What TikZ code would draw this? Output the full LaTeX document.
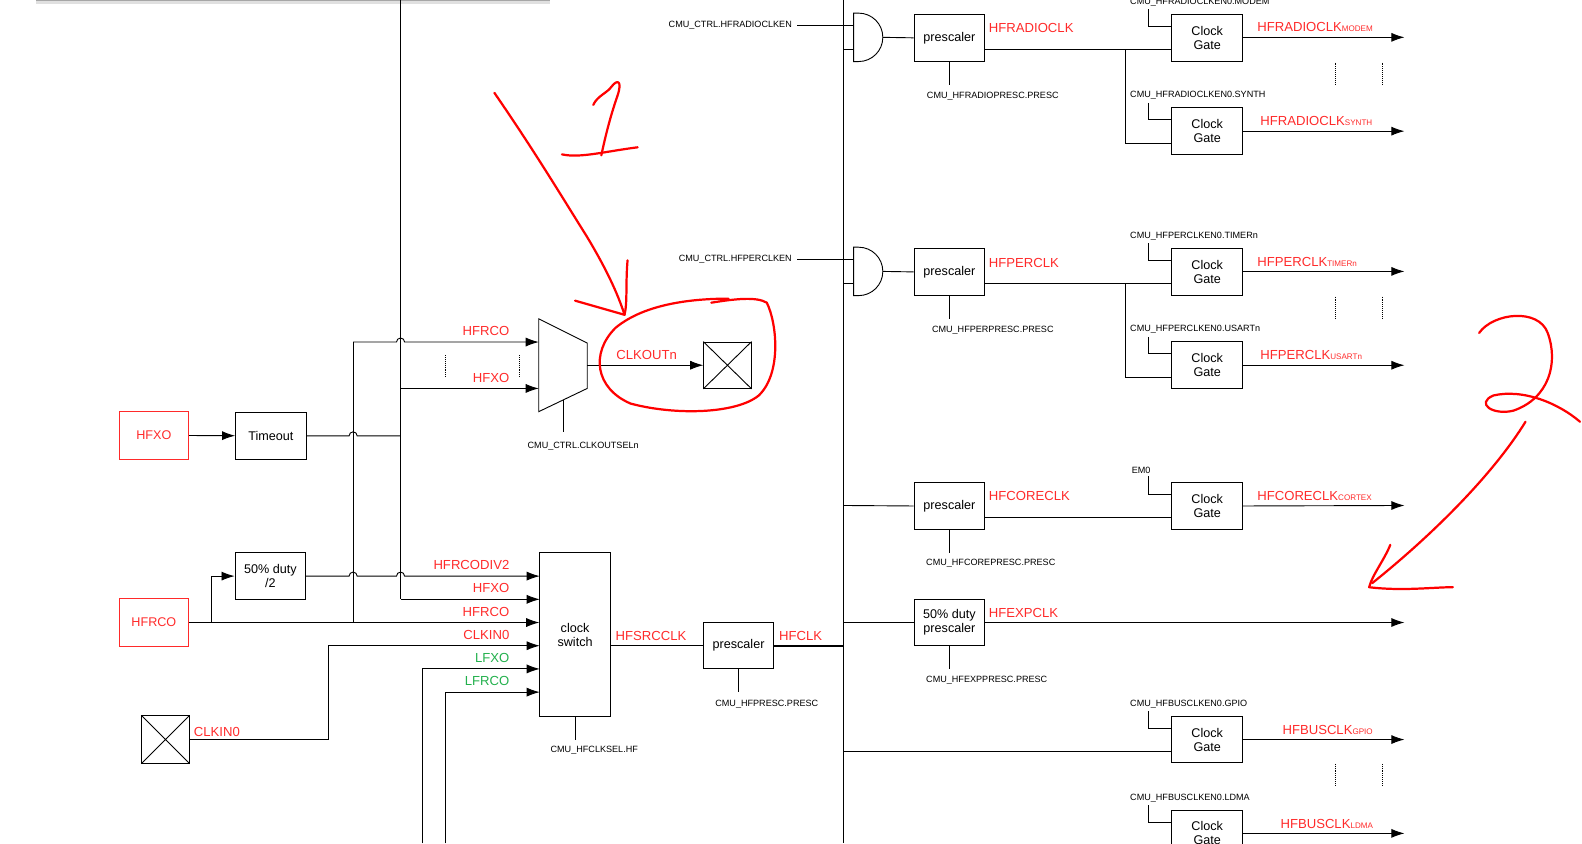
\documentclass[tikz,border=0pt]{standalone}
\usepackage{fontspec}
\setmainfont{Liberation Sans}
\usetikzlibrary{arrows.meta}
\definecolor{rd}{HTML}{FF2A2A}
\definecolor{gn}{HTML}{22B04C}
\begin{document}
\begin{tikzpicture}[x=1pt,y=-1pt,
  box/.style={draw,line width=0.9pt,minimum width=70pt,minimum height=47pt,inner sep=0pt,align=center,font=\fontsize{12.5}{14}\selectfont},
  rbox/.style={box,draw=rd,text=rd},
  pad/.style={draw,line width=0.9pt,minimum width=47pt,minimum height=47pt,inner sep=0pt},
  w/.style={line width=0.9pt},
  bus/.style={line width=1.7pt},
  arr/.style={w,-{Latex[length=13pt,width=9pt]}},
  sm/.style={font=\fontsize{9}{10}\selectfont,inner sep=1pt},
  lab/.style={text=rd,font=\fontsize{13}{14}\selectfont,inner sep=1pt},
  glab/.style={text=gn,font=\fontsize{13}{14}\selectfont,inner sep=1pt},
  ann/.style={draw=red,line width=2.2pt,line cap=round,line join=round}]
\useasboundingbox (0,0) rectangle (1568,836);
\newcommand{\sub}[1]{{\fontsize{8}{8}\selectfont #1}}
% top shadow box edge
\fill[black!12] (36,0) rectangle (545,4);
\draw[black!35,line width=0.8pt] (36,0) -- (545,0);
% ---------------- left side
\node[rbox,minimum width=69pt] (hfxo) at (152.5,431.5) {HFXO};
\node[box] (tmo) at (268.5,432) {Timeout};
\node[box,minimum height=46pt] (duty) at (268,571) {50\% duty\\/2};
\node[rbox,minimum width=69pt] (hfrco) at (152.5,617) {HFRCO};
\node[pad] (clkpad) at (164,733) {};
\draw[w] (clkpad.north west)--(clkpad.south east) (clkpad.north east)--(clkpad.south west);
\node[box,minimum height=162pt] (sw) at (570,629) {clock\\switch};
\node[box,minimum height=46pt] (pr0) at (732,640) {prescaler};
\node[pad,minimum height=46pt] (outpad) at (721,362) {};
\draw[w] (outpad.north west)--(outpad.south east) (outpad.north east)--(outpad.south west);
% mux
\draw[w] (534,316) coordinate (mA) -- (582,340) -- (582,385) -- (534,408) -- cycle;
\coordinate (muxout) at (582,362);
\coordinate (muxsel) at (558,396);
% vertical lines
\coordinate (vA) at (350,339);
\coordinate (vB) at (397,0);
\draw[w] (vA) -- (350,617);
\draw[w] (vB) -- (397,594);
\draw[arr] (hfxo) -- (tmo);
\draw[w] (tmo.east) -- (346,432) arc (180:360:4) -- (397,432);
\draw[arr] (vA) -- (393,339) arc (180:360:4) -- (534,339);
\draw[arr] (397,385) -- (534,385);
\draw[w,densely dotted] (442,352) -- (442,374) (515,352) -- (515,374);
\node[lab,anchor=south east] at (506,334) {HFRCO};
\node[lab,anchor=south east] at (506,380) {HFXO};
\draw[arr] (muxout) -- (outpad.west);
\node[lab,anchor=south] at (641,358) {CLKOUTn};
\draw[w] (muxsel) -- (558,428);
\node[sm] at (578,442) {CMU\_CTRL.CLKOUTSELn};
% HFRCO
\draw[arr] (hfrco.east) -- (sw.west|-hfrco.east);
\draw[arr] (210,617) -- (210,571) -- (duty.west);
\draw[arr] (duty.east) -- (346,571) arc (180:360:4) -- (393,571) arc (180:360:4) -- (535,571);
\draw[arr] (397,594) -- (535,594);
\draw[arr] (clkpad.east) -- (326,733) -- (326,640) -- (535,640);
\draw[arr] (419,836) -- (419,663) -- (535,663);
\draw[arr] (442,836) -- (442,686) -- (535,686);
\node[lab,anchor=south east] at (506,566) {HFRCODIV2};
\node[lab,anchor=south east] at (506,589) {HFXO};
\node[lab,anchor=south east] at (506,612) {HFRCO};
\node[lab,anchor=south east] at (506,635) {CLKIN0};
\node[glab,anchor=south east] at (506,658) {LFXO};
\node[glab,anchor=south east] at (506,681) {LFRCO};
\node[lab,anchor=south west] at (191,731) {CLKIN0};
\draw[w] (sw.east|-pr0.west) -- (pr0.west);
\node[lab,anchor=south west] at (609,636) {HFSRCCLK};
\draw[bus] (pr0.east) -- (836,640);
\node[lab,anchor=south west] at (771,636) {HFCLK};
\draw[w] (sw.south) -- (570,733);
\node[sm] at (589,744) {CMU\_HFCLKSEL.HF};
\draw[w] (pr0.south) -- (732,686);
\node[sm] at (760,698) {CMU\_HFPRESC.PRESC};
% ---------------- bus
\coordinate (bt) at (836,0);
\coordinate (bb) at (836,836);
\draw[bus] (bt) -- (bb);
% gates
\foreach \o/\en/\nm/\lb/\ps/\sa/\sb in {0/HFRADIOCLKEN/HFRADIOCLK/HFRADIOPRESC/HFRADIOCLKEN0/MODEM/SYNTH,232/HFPERCLKEN/HFPERCLK/HFPERPRESC/HFPERCLKEN0/TIMERn/USARTn}{
 \begin{scope}[yshift=-\o pt]
 \draw[w] (846,13) -- (851,13) arc (-90:90:24) -- (846,61) -- cycle;
 \draw[w] (790,25) -- (846,25);
 \draw[w] (836,49) -- (846,49);
 \node[sm,anchor=east] at (786,25) {CMU\_CTRL.\en};
 \node[box] (p) at (941,37.5) {prescaler};
 \draw[w] (875,37) -- (p.west);
 \node[lab,anchor=south west] at (979,34) {\nm};
 \draw[w] (p.south) -- (941,84);
 \node[sm] at (984,95) {CMU\_\lb.PRESC};
 \node[box] (c1) at (1196.5,37.5) {Clock\\Gate};
 \node[box] (c2) at (1196.5,130) {Clock\\Gate};
 \draw[w] (976,49) -- (1162,49);
 \draw[w] (1115,49) -- (1115,142) -- (1162,142);
 \draw[w] (1138,9) -- (1138,26) -- (1162,26);
 \draw[w] (1138,102) -- (1138,118) -- (1162,118);
 \node[sm,anchor=west] at (1119,94) {CMU\_\ps.\sb};
 \draw[arr] (1231,37) -- (1392,37);
 \draw[arr] (1231,130) -- (1392,130);
 \node[lab,anchor=south west] at (1245,33) {\nm\sub{\sa}};
 \node[lab,anchor=south west] at (1248,126) {\nm\sub{\sb}};
 \draw[w,densely dotted] (1324,62) -- (1324,83) (1370,62) -- (1370,83);
 \end{scope}}
\node[sm,anchor=west] at (1119,2) {CMU\_HFRADIOCLKEN0.MODEM};
\node[sm,anchor=west] at (1119,234) {CMU\_HFPERCLKEN0.TIMERn};
% HFCORE
\node[box] (pc) at (941,501.5) {prescaler};
\draw[w] (836,501) -- (pc.west);
\node[box] (cc) at (1196.5,501.5) {Clock\\Gate};
\draw[w] (976,513) -- (1162,513);
\draw[w] (1138,472) -- (1138,490) -- (1162,490);
\node[sm] at (1131,466) {EM0};
\draw[arr] (cc.east) -- (1392,501);
\node[lab,anchor=south west] at (979,497) {HFCORECLK};
\node[lab,anchor=south west] at (1245,497) {HFCORECLK\sub{CORTEX}};
\draw[w] (pc.south) -- (941,548);
\node[sm] at (982,558) {CMU\_HFCOREPRESC.PRESC};
% HFEXP
\node[box,minimum height=46pt] (pe) at (941,617) {50\% duty\\prescaler};
\draw[w] (836,617) -- (pe.west);
\draw[arr] (pe.east) -- (1392,617);
\node[lab,anchor=south west] at (979,613) {HFEXPCLK};
\draw[w] (pe.south) -- (941,663);
\node[sm] at (978,674) {CMU\_HFEXPPRESC.PRESC};
% HFBUS
\node[box,minimum height=46pt] (cg) at (1196.5,733) {Clock\\Gate};
\draw[w] (836,745) -- (1162,745);
\draw[w] (1138,705) -- (1138,722) -- (1162,722);
\node[sm,anchor=west] at (1119,698) {CMU\_HFBUSCLKEN0.GPIO};
\draw[arr] (cg.east) -- (1392,733);
\node[lab,anchor=south west] at (1270,729) {HFBUSCLK\sub{GPIO}};
\draw[w,densely dotted] (1324,757) -- (1324,779) (1370,757) -- (1370,779);
\node[box,minimum height=46pt] (cl) at (1196.5,826) {Clock\\Gate};
\draw[w] (1138,798) -- (1138,815) -- (1162,815);
\node[sm,anchor=west] at (1119,791) {CMU\_HFBUSCLKEN0.LDMA};
\draw[arr] (cl.east|-0,826) -- (1392,826);
\node[lab,anchor=south west] at (1268,822) {HFBUSCLK\sub{LDMA}};
% ---------------- annotations
\draw[ann] (490,92) .. controls (530,150) and (560,200) .. (582,235) .. controls (600,265) and (612,290) .. (619,312);
\draw[ann] (622,258) .. controls (620,280) and (622,300) .. (619,312) -- (570,298);
\draw[ann] (588,104) .. controls (592,95) and (602,92) .. (606,86) .. controls (612,78) and (617,80) .. (612,95) .. controls (605,115) and (600,135) .. (596,154);
\draw[ann] (557,153) .. controls (575,157) and (600,150) .. (632,146);
\draw[ann] (722,296) .. controls (690,296) and (640,300) .. (610,325) .. controls (585,350) and (590,385) .. (625,400) .. controls (670,412) and (730,410) .. (752,392) .. controls (775,370) and (770,320) .. (760,300) .. controls (750,294) and (730,296) .. (705,300);
\draw[ann] (1466,330) .. controls (1480,310) and (1525,305) .. (1534,330) .. controls (1545,360) and (1535,395) .. (1500,407) .. controls (1480,412) and (1462,400) .. (1480,392) .. controls (1510,385) and (1545,400) .. (1566,418);
\draw[ann] (1512,418) .. controls (1480,470) and (1420,530) .. (1360,578);
\draw[ann] (1378,540) .. controls (1372,555) and (1360,570) .. (1357,582) .. controls (1390,586) and (1420,582) .. (1440,582);
\end{tikzpicture}
\end{document}
